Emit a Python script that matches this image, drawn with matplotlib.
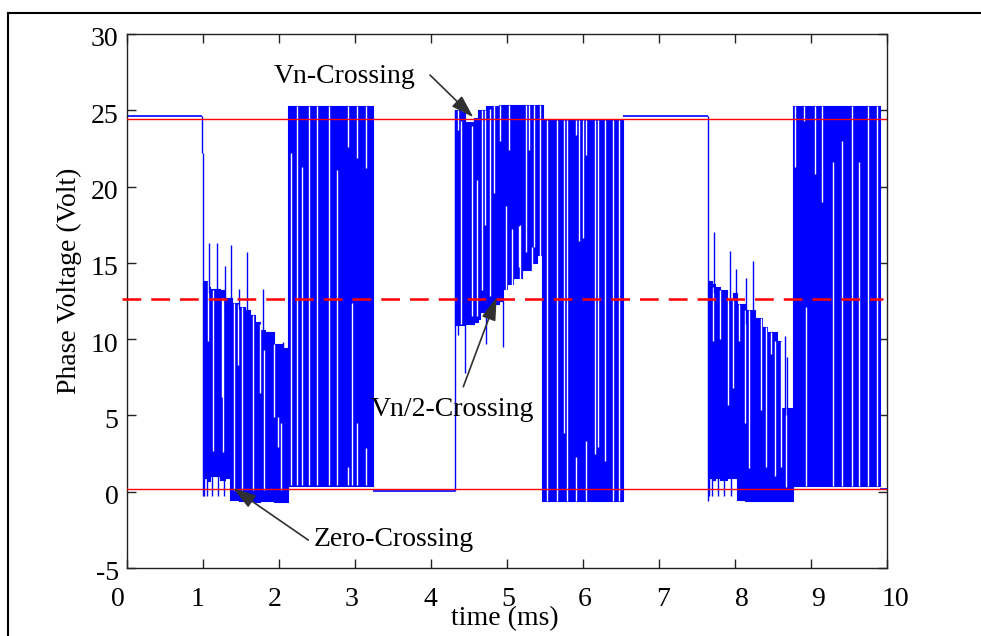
import matplotlib
matplotlib.use("Agg")
import matplotlib.pyplot as plt
from matplotlib.lines import Line2D
from matplotlib.transforms import ScaledTranslation

plt.rcParams['font.family'] = ['Liberation Serif', 'DejaVu Serif']
plt.rcParams['font.size'] = 20
plt.rcParams['axes.unicode_minus'] = False

# ---------------- data ----------------
# reference levels (Volt)
VN = 24.45
VN_HALF = 12.65
ZERO = 0.15

# flat (non-switching) portions of the phase voltage
flat_t0 = [0.0, 3.241, 6.531, 9.908]
flat_t1 = [0.983, 4.316, 7.649, 10.0]
flat_v = [24.6, 0.05, 24.6, 0.15]

# switching blocks: breakpoints (ms), upper and lower envelope (V), step-post
B_t = [1.00, 1.05, 1.09, 1.22, 1.29, 1.35, 1.38, 1.47, 1.55, 1.62, 1.68, 1.75, 1.82, 1.93, 2.04, 2.115]
B_hi = [13.8, 13.4, 13.3, 13.2, 12.7, 12.7, 12.4, 12.1, 11.9, 11.6, 11.1, 10.6, 10.5, 9.7, 9.4, 9.4]
B_lo = [0.9, 0.7, 1.0, 0.8, 0.9, -0.55, -0.55, -0.6, -0.6, -0.6, -0.65, -0.6, -0.6, -0.65, -0.65, -0.65]

C_t = [2.115, 3.241]
C_hi = [25.3, 25.3]
C_lo = [0.4, 0.4]

E_t = [4.316, 4.40, 4.45, 4.56, 4.62, 4.64, 4.73, 4.80, 4.90, 4.95, 5.00, 5.08, 5.20, 5.33, 5.40, 5.47]
E_hi = [25.0, 24.9, 24.2, 24.5, 25.05, 25.05, 25.25, 25.25, 25.35, 25.35, 25.35, 25.35, 25.35, 25.35, 25.35, 25.35]
E_lo = [10.9, 10.9, 11.0, 11.1, 11.3, 11.8, 12.0, 12.3, 12.5, 13.3, 13.6, 14.0, 14.5, 15.0, 15.5, 15.5]

F_t = [5.455, 6.531]
F_hi = [24.36, 24.36]
F_lo = [-0.6, -0.6]

H_t = [7.649, 7.693, 7.737, 7.803, 7.89, 7.978, 8.03, 8.13, 8.26, 8.35, 8.417, 8.548, 8.61, 8.759]
H_hi = [13.8, 13.6, 13.4, 13.2, 12.6, 13.0, 12.3, 11.9, 11.4, 10.8, 10.5, 9.9, 5.5, 5.5]
H_lo = [0.9, 0.8, 0.9, 0.8, 0.9, 0.9, -0.55, -0.6, -0.6, -0.6, -0.6, -0.6, -0.6, -0.6]

I_t = [8.759, 9.908]
I_hi = [25.28, 25.28]
I_lo = [0.35, 0.35]

# isolated pulses / transitions (blue)
spike_t = [0.983, 1.0, 4.316, 7.649,
           1.083, 1.18, 1.289, 1.368, 1.478, 1.579, 1.794, 2.057,
           1.01, 1.05, 1.12, 1.20, 1.27,
           7.724, 7.685, 7.934, 8.013, 8.145, 8.241, 8.66, 8.685,
           7.66, 7.70, 7.77, 7.85, 7.95,
           4.36, 4.45, 4.73, 4.943]
spike_lo = [22.2, -0.3, 0.05, -0.6,
            13.0, 13.0, 12.0, 12.0, 12.0, 11.0, 10.0, 9.0,
            -0.3, -0.25, -0.25, -0.25, -0.25,
            13.0, 13.0, 12.0, 12.0, 11.0, 11.0, 5.0, 5.0,
            -0.3, -0.3, -0.3, -0.3, -0.3,
            10.3, 7.8, 9.7, 9.5]
spike_hi = [24.6, 22.2, 25.0, 24.6,
            16.3, 16.3, 14.8, 16.2, 13.3, 15.7, 13.3, 9.8,
            1.0, 1.0, 1.0, 1.0, 1.0,
            17.0, 13.8, 15.8, 14.6, 14.0, 15.1, 10.2, 8.8,
            1.0, 1.0, 1.0, 1.0, 1.0,
            11.0, 11.0, 12.0, 12.5]

# pulse gaps inside the switching blocks (white)
gap_t = [1.061, 1.136, 1.246, 1.268, 1.412, 1.456, 1.509, 1.662, 1.75, 1.80, 1.939, 1.982, 2.026,
         2.154, 2.232, 2.298, 2.399, 2.504, 2.662, 2.768, 2.904, 2.956, 3.031, 3.031, 3.145, 3.15, 2.91,
         4.35, 4.40, 4.535, 4.61, 4.666, 4.71, 4.776, 4.83, 4.908, 4.99, 5.02, 5.03, 5.06, 5.16, 5.17,
         5.25, 5.295, 5.325, 5.35, 5.43,
         5.522, 5.654, 5.754, 5.794, 5.904, 5.904, 5.947, 5.995, 6.035, 6.035, 6.158, 6.20, 6.289, 6.399, 6.478,
         7.706, 7.80, 7.912, 7.969, 8.057, 8.13, 8.18, 8.34, 8.41, 8.47, 8.53, 8.60, 8.67,
         8.79, 8.91, 8.934, 9.05, 9.15, 9.29, 9.41, 9.54, 9.635, 9.755, 9.862]
gap_lo = [9.9, 2.7, 6.2, 2.6, 0.1, 8.3, 0.1, 0.1, 6.45, 0.1, 4.9, 2.95, 0.1,
          0.44, 0.44, 0.44, 0.44, 0.44, 0.44, 0.44, 22.6, 0.44, 21.85, 0.44, 21.2, 0.44, 0.44,
          23.7, 11.0, 11.5, 11.5, 13.2, 17.5, 12.8, 19.6, 23.0, 13.0, 22.4, 22.4, 13.5, 14.75, 13.2,
          15.73, 22.4, 13.0, 16.06, 14.5,
          -0.6, -0.6, 3.85, -0.6, 23.4, -0.6, 16.4, 16.6, 22.1, -0.6, 2.5, 2.9, 2.0, -0.6, -0.6,
          9.9, 10.0, 5.7, 6.8, 9.9, 4.5, 1.55, 5.35, 1.6, 9.0, 1.0, 1.6, 0.3,
          21.3, 24.3, 0.35, 20.8, 19.0, 0.35, 0.35, 0.35, 0.35, 0.35, 0.35]
gap_hi = [13.8, 13.2, 12.7, 12.7, 12.4, 12.3, 12.1, 11.6, 11.0, 9.3, 9.7, 4.9, 4.5,
          22.2, 25.3, 21.3, 25.3, 25.3, 25.3, 21.1, 25.3, 12.35, 25.3, 4.48, 25.3, 2.84, 1.64,
          25.0, 24.3, 24.0, 20.4, 25.0, 25.0, 25.1, 25.35, 25.35, 18.7, 25.35, 22.4, 17.2, 17.4, 17.5,
          25.35, 25.35, 16.06, 25.35, 25.35,
          24.36, 24.36, 24.36, 24.36, 24.36, 2.3, 24.36, 24.36, 24.36, 3.3, 24.36, 24.36, 24.36, 24.36, 24.36,
          13.4, 13.2, 12.6, 12.6, 12.3, 11.9, 11.9, 11.4, 10.8, 10.5, 9.9, 9.9, 5.5,
          25.28, 25.28, 12.1, 25.28, 25.28, 21.6, 23.0, 25.28, 21.6, 25.28, 25.28]

x_ticks = [0, 1, 2, 3, 4, 5, 6, 7, 8, 9, 10]
y_ticks = [-5, 0, 5, 10, 15, 20, 25, 30]

# ---------------- figure ----------------
W, H = 981, 636
fig = plt.figure(figsize=(W / 100, H / 100), dpi=100)
ax = fig.add_axes([127 / W, (H - 568) / H, 760 / W, 534 / H])

blue = '#0000ff'
for t, hi, lo in [(B_t, B_hi, B_lo), (C_t, C_hi, C_lo), (E_t, E_hi, E_lo),
                  (F_t, F_hi, F_lo), (H_t, H_hi, H_lo), (I_t, I_hi, I_lo)]:
    ax.fill_between(t, lo, hi, step='post', facecolor=blue, edgecolor=blue,
                    linewidth=0.8, zorder=2)

ax.vlines(gap_t, gap_lo, gap_hi, colors='white', linewidth=1.0, zorder=2.4)
ax.vlines(spike_t, spike_lo, spike_hi, colors=blue, linewidth=1.0, zorder=2.5)
ax.hlines(flat_v, flat_t0, flat_t1, colors=blue, linewidth=1.2, zorder=2.5)

# reference levels
ax.axhline(VN, color='red', linewidth=1.0, zorder=3)
ax.axhline(ZERO, color='red', linewidth=1.0, zorder=3)
ax.plot([-0.06, 9.95], [VN_HALF, VN_HALF], color='red', linewidth=1.8,
        dashes=(7.5, 4.0), clip_on=False, zorder=3)

ax.set_xlim(0, 10)
ax.set_ylim(-5, 30)
ax.set_xticks(x_ticks)
ax.set_yticks(y_ticks)
ax.set_xticklabels([str(v) for v in x_ticks])
ax.set_yticklabels([str(v) for v in y_ticks])
ax.tick_params(direction='in', length=6.5, width=1.0, top=True, right=True,
               color='#222222', labelsize=20)
ax.tick_params(axis='x', pad=13.5)
ax.tick_params(axis='y', pad=6)
for s in ax.spines.values():
    s.set_color('#222222')
    s.set_linewidth(1.0)

# slight offsets of the tick labels seen in the reference
label_shift_px = [-9, -5, -4, -3, -1, 1, 2, 4, 7, 7, 8]
for lab, dx in zip(ax.get_xticklabels(), label_shift_px):
    lab.set_transform(lab.get_transform() + ScaledTranslation(dx / 100, 0, fig.dpi_scale_trans))
for lab in ax.get_yticklabels():
    lab.set_transform(lab.get_transform() + ScaledTranslation(0, -3 / 100, fig.dpi_scale_trans))

ax.set_xlabel('time (ms)', fontsize=20, va='center')
ax.xaxis.set_label_coords(0.497, -0.094)
ax.set_ylabel('Phase Voltage (Volt)', fontsize=20, va='center')
ax.yaxis.set_label_coords(-0.076, 0.538)

# annotations
arrow = dict(arrowstyle='-|>,head_length=0.7,head_width=0.22', color='#303030',
             linewidth=1.2, shrinkA=0, shrinkB=0)
ax.text(2.868, 26.77, 'Vn-Crossing', ha='center', va='baseline', fontsize=20, zorder=6)
ax.annotate('', xy=(4.557, 24.54), xytext=(3.987, 27.31), arrowprops=arrow, zorder=6)
ax.text(4.283, 4.96, 'Vn/2-Crossing', ha='center', va='baseline', fontsize=20, zorder=6)
ax.annotate('', xy=(4.864, 12.74), xytext=(4.425, 6.88), arrowprops=arrow, zorder=6)
ax.text(3.513, -3.56, 'Zero-Crossing', ha='center', va='baseline', fontsize=20, zorder=6)
ax.annotate('', xy=(1.399, 0.22), xytext=(2.386, -3.17), arrowprops=arrow, zorder=6)

# outer frame (top and left edges visible)
fig.add_artist(Line2D([8 / W, 1.0], [1 - 13 / H, 1 - 13 / H], transform=fig.transFigure,
                      color='black', linewidth=1.5))
fig.add_artist(Line2D([8 / W, 8 / W], [0.0, 1 - 13 / H], transform=fig.transFigure,
                      color='black', linewidth=1.5))

fig.savefig('out.png', dpi=100)
